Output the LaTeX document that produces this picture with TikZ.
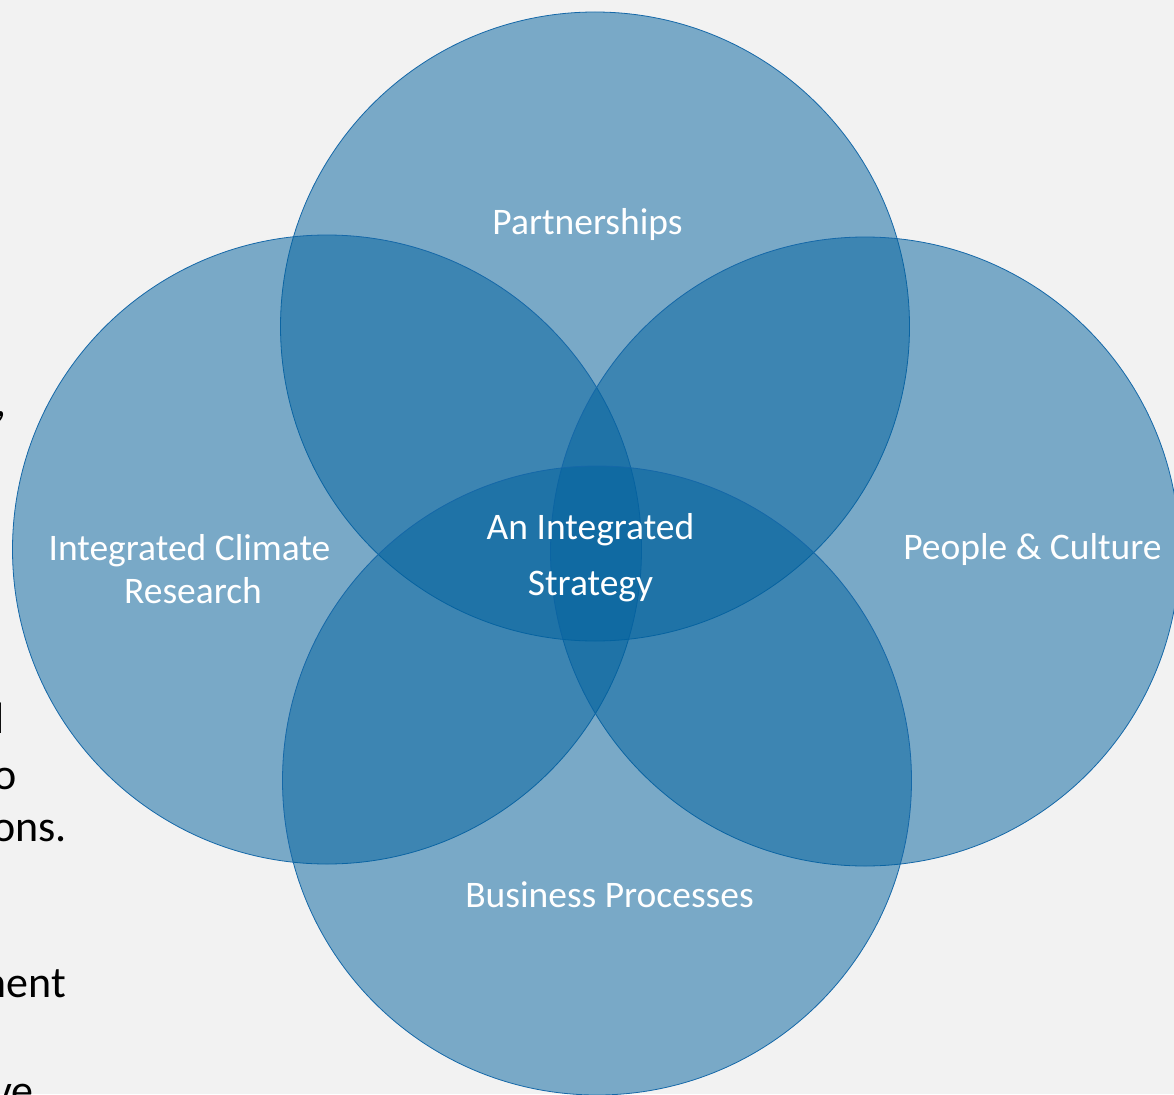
\documentclass[tikz,border=0pt]{standalone}
\usepackage{fontspec}
\setmainfont{Carlito}
\definecolor{bgc}{HTML}{F2F2F2}
\definecolor{ringfill}{RGB}{2,98,158}
\definecolor{ringline}{HTML}{1568A8}
\tikzset{
  ring/.style={circle,draw=ringline,line width=0.8pt,fill=ringfill,fill opacity=0.5,draw opacity=1,minimum size=629pt,inner sep=0pt},
  lab/.style={text=white,font=\fontsize{37.5}{43}\selectfont,align=center,inner sep=0pt},
  frag/.style={text=black,font=\fontsize{44}{52}\selectfont,anchor=base east,inner sep=0pt}
}
\begin{document}
\begin{tikzpicture}[x=1pt,y=-1pt]
\useasboundingbox (0,0) rectangle (1174,1094);
\fill[bgc] (0,0) rectangle (1174,1094);
\begin{scope}
\clip (0,0) rectangle (1174,1094);
\node[ring] (top) at (595,326.5) {};
\node[ring] (left) at (327,549.5) {};
\node[ring] (right) at (865,551.5) {};
\node[ring] (bottom) at (597,780.5) {};
\node[frag] (f1) at (7,416) {,};
\node[frag] (f2) at (5,733) {l};
\node[frag] (f3) at (17,789) {o};
\node[frag] (f4) at (67,841) {ons.};
\node[frag] (f5) at (66,997) {ment};
\node[frag] (f6) at (34,1105) {ve};
\end{scope}
\node[lab] (p) at (587.5,225) {Partnerships};
\node[lab] (i) at (189.5,569.5) {Integrated Climate\\\hspace*{7pt}Research};
\node[lab] (c) at (1032.5,549.5) {People \& Culture};
\node[lab] (b) at (609.5,895) {Business Processes};
\node[lab,font=\fontsize{37.5}{56}\selectfont] (s) at (590.5,558) {An Integrated\\Strategy};
\end{tikzpicture}
\end{document}
